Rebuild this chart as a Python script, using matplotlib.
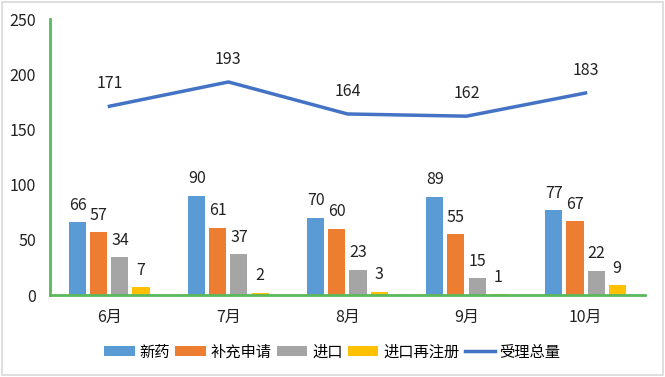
import matplotlib.pyplot as plt
import numpy as np
from matplotlib.patches import Rectangle

plt.rcParams['font.family'] = ['Noto Sans CJK SC', 'DejaVu Sans']

months = ["6月", "7月", "8月", "9月", "10月"]
xinyao = [66, 90, 70, 89, 77]
buchong = [57, 61, 60, 55, 67]
jinkou = [34, 37, 23, 15, 22]
zaizhuce = [7, 2, 3, 1, 9]
total = [171, 193, 164, 162, 183]

series = [("新药", xinyao, "#5B9BD5"),
          ("补充申请", buchong, "#ED7D31"),
          ("进口", jinkou, "#A5A5A5"),
          ("进口再注册", zaizhuce, "#FFC000")]

fig = plt.figure(figsize=(6.65, 3.77), dpi=100)
ax = fig.add_axes([0.075, 0.2175, 0.895, 0.732])

x = np.arange(len(months))
w = 0.143
step = 0.177
for i, (name, vals, col) in enumerate(series):
    pos = x + (i - 1.5) * step
    ax.bar(pos, vals, w, color=col, label=name)
    for px, v in zip(pos, vals):
        ax.annotate(str(v), (px, v), xytext=(0, 6), textcoords="offset points",
                    ha="center", va="bottom", fontsize=11.5, color="#222222")

ax.plot(x, total, color="#4472C4", lw=2.5, label="受理总量")
for px, v in zip(x, total):
    ax.annotate(str(v), (px, v), xytext=(0, 10), textcoords="offset points",
                ha="center", va="bottom", fontsize=11.5, color="#222222")

ax.set_xlim(-0.5, 4.5)
ax.set_ylim(0, 250)
ax.set_yticks(range(0, 251, 50))
ax.set_xticks(x)
ax.set_xticklabels(months)
ax.tick_params(length=0, labelsize=11.5, colors="#222222")
ax.tick_params(axis="x", pad=10)
ax.tick_params(axis="y", pad=10)
for s in ["top", "right"]:
    ax.spines[s].set_visible(False)
for s in ["left", "bottom"]:
    ax.spines[s].set_color("#5CB85C")
    ax.spines[s].set_linewidth(2)

handles, labels = ax.get_legend_handles_labels()
handles = handles[1:] + handles[:1]
labels = labels[1:] + labels[:1]
fig.legend(handles, labels, loc="center", bbox_to_anchor=(0.50, 0.066),
           ncol=5, frameon=False, fontsize=11, handlelength=2.0, handleheight=0.6,
           columnspacing=0.35, handletextpad=0.3)

fig.patches.append(Rectangle((0.003, 0.004), 0.994, 0.99, transform=fig.transFigure,
                             fill=False, edgecolor="#D9D9D9", lw=1.2))

plt.savefig("out.png")
plt.close()
